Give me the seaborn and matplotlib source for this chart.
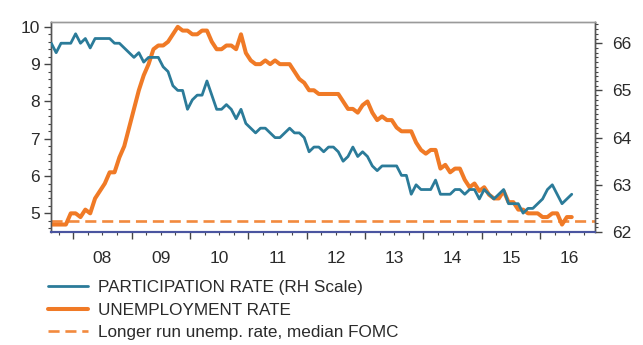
import numpy as np
import pandas as pd
import matplotlib
matplotlib.use("Agg")
import matplotlib.pyplot as plt
from matplotlib.ticker import FixedLocator, MultipleLocator, FuncFormatter, NullFormatter
import seaborn as sns

# Monthly series, Aug 2007 - Jul 2016
start_period = "2007-08"
end_period = "2016-07"

unemployment_rate = [
    4.7, 4.7, 4.7, 4.7, 5.0,
    5.0, 4.9, 5.1, 5.0, 5.4, 5.6, 5.8, 6.1, 6.1, 6.5, 6.8, 7.3,
    7.8, 8.3, 8.7, 9.0, 9.4, 9.5, 9.5, 9.6, 9.8, 10.0, 9.9, 9.9,
    9.8, 9.8, 9.9, 9.9, 9.6, 9.4, 9.4, 9.5, 9.5, 9.4, 9.8, 9.3,
    9.1, 9.0, 9.0, 9.1, 9.0, 9.1, 9.0, 9.0, 9.0, 8.8, 8.6, 8.5,
    8.3, 8.3, 8.2, 8.2, 8.2, 8.2, 8.2, 8.0, 7.8, 7.8, 7.7, 7.9,
    8.0, 7.7, 7.5, 7.6, 7.5, 7.5, 7.3, 7.2, 7.2, 7.2, 6.9, 6.7,
    6.6, 6.7, 6.7, 6.2, 6.3, 6.1, 6.2, 6.2, 5.9, 5.7, 5.8, 5.6,
    5.7, 5.5, 5.4, 5.4, 5.6, 5.3, 5.3, 5.1, 5.1, 5.0, 5.0, 5.0,
    4.9, 4.9, 5.0, 5.0, 4.7, 4.9, 4.9,
]

participation_rate = [
    66.0, 65.8, 66.0, 66.0, 66.0,
    66.2, 66.0, 66.1, 65.9, 66.1, 66.1, 66.1, 66.1, 66.0, 66.0, 65.9, 65.8,
    65.7, 65.8, 65.6, 65.7, 65.7, 65.7, 65.5, 65.4, 65.1, 65.0, 65.0, 64.6,
    64.8, 64.9, 64.9, 65.2, 64.9, 64.6, 64.6, 64.7, 64.6, 64.4, 64.6, 64.3,
    64.2, 64.1, 64.2, 64.2, 64.1, 64.0, 64.0, 64.1, 64.2, 64.1, 64.1, 64.0,
    63.7, 63.8, 63.8, 63.7, 63.8, 63.8, 63.7, 63.5, 63.6, 63.8, 63.6, 63.7,
    63.6, 63.4, 63.3, 63.4, 63.4, 63.4, 63.4, 63.2, 63.2, 62.8, 63.0, 62.9,
    62.9, 62.9, 63.1, 62.8, 62.8, 62.8, 62.9, 62.9, 62.8, 62.9, 62.9, 62.7,
    62.9, 62.8, 62.7, 62.8, 62.9, 62.6, 62.6, 62.6, 62.4, 62.5, 62.5, 62.6,
    62.7, 62.9, 63.0, 62.8, 62.6, 62.7, 62.8,
]

longer_run_rate = 4.8

years = list(range(2008, 2017))
year_labels = ["08", "09", "10", "11", "12", "13", "14", "15", "16"]

series_labels = [
    "PARTICIPATION RATE (RH Scale)",
    "UNEMPLOYMENT RATE",
    "Longer run unemp. rate, median FOMC",
]

BLUE = "#2b7b99"
ORANGE = "#f07a26"
DASH_ORANGE = "#f28a3e"
TEXT = "#2a2a2a"

periods = pd.period_range(start_period, end_period, freq="M")
df = pd.DataFrame({
    "t": periods.year + (periods.month - 0.5) / 12.0,
    "unemp": unemployment_rate,
    "part": participation_rate,
})

sns.set_style("white")
plt.rcParams["font.family"] = ["Liberation Sans", "DejaVu Sans"]

fig = plt.figure(figsize=(6.43, 3.45), dpi=100)
ax = fig.add_axes([51 / 643, 1 - 232 / 345, 544 / 643, 210 / 345])
ax2 = ax.twinx()

sns.lineplot(data=df, x="t", y="unemp", ax=ax, color=ORANGE, lw=2.9,
             label=series_labels[1], legend=False, zorder=3,
             solid_joinstyle="round", solid_capstyle="round")
dash = ax.axhline(longer_run_rate, color=DASH_ORANGE, lw=1.9,
                  dashes=(4.2, 2.2), label=series_labels[2], zorder=2)
sns.lineplot(data=df, x="t", y="part", ax=ax2, color=BLUE, lw=2.0,
             label=series_labels[0], legend=False, zorder=4,
             solid_joinstyle="round")

ax.set_xlim(2007.62, 2016.94)
ax.set_ylim(4.5, 10.13)
ax2.set_ylim(62.0, 66.45)

# x axis: year boundaries as major ticks, quarters as minor ticks,
# year labels centred on each year (at the mid-year quarter tick)
ax.xaxis.set_major_locator(FixedLocator(years))
ax.xaxis.set_major_formatter(NullFormatter())
quarters = [y + q / 4 for y in range(2007, 2017) for q in (1, 2, 3)]
ax.xaxis.set_minor_locator(FixedLocator(quarters))
label_map = {y + 0.5: lab for y, lab in zip(years, year_labels)}


def year_fmt(v, pos):
    for k, lab in label_map.items():
        if abs(v - k) < 1e-6:
            return lab
    return ""


ax.xaxis.set_minor_formatter(FuncFormatter(year_fmt))

ax.yaxis.set_major_locator(MultipleLocator(1))
ax.yaxis.set_minor_locator(MultipleLocator(0.2))
ax2.yaxis.set_major_locator(MultipleLocator(1))
ax2.yaxis.set_minor_locator(MultipleLocator(0.1))

ax.set_xlabel("")
ax.set_ylabel("")
ax2.set_ylabel("")

for a in (ax, ax2):
    a.tick_params(axis="both", which="both", direction="out", colors="#444444",
                  labelcolor=TEXT, labelsize=12.5)
    a.tick_params(which="major", length=5, width=1)
    a.tick_params(which="minor", length=2.5, width=0.8)

ax.tick_params(axis="x", which="minor", pad=11)
ax.tick_params(axis="y", which="major", pad=3, left=True)
ax.tick_params(axis="y", which="minor", left=True)
ax.tick_params(axis="x", which="both", bottom=True)
ax2.tick_params(axis="y", which="major", pad=7, right=True)
ax2.tick_params(axis="y", which="minor", right=True)

for a in (ax, ax2):
    for side in ("left", "right", "top", "bottom"):
        a.spines[side].set_visible(True)
        a.spines[side].set_linewidth(1.0)
    a.spines["top"].set_color("#9a9a9a")
    a.spines["left"].set_color("#555555")
    a.spines["right"].set_color("#555555")
    a.spines["bottom"].set_color("#4a55a0")
    a.spines["bottom"].set_linewidth(1.5)

handles = [ax2.get_lines()[0], ax.get_lines()[0], dash]
fig.legend(handles, series_labels, loc="upper left",
           bbox_to_anchor=(48 / 643, 1 - 280 / 345), frameon=False,
           fontsize=12.3, labelcolor=TEXT, handlelength=2.35,
           handletextpad=0.6, labelspacing=0.45, borderpad=0,
           borderaxespad=0)

fig.savefig("out.png", dpi=100)
